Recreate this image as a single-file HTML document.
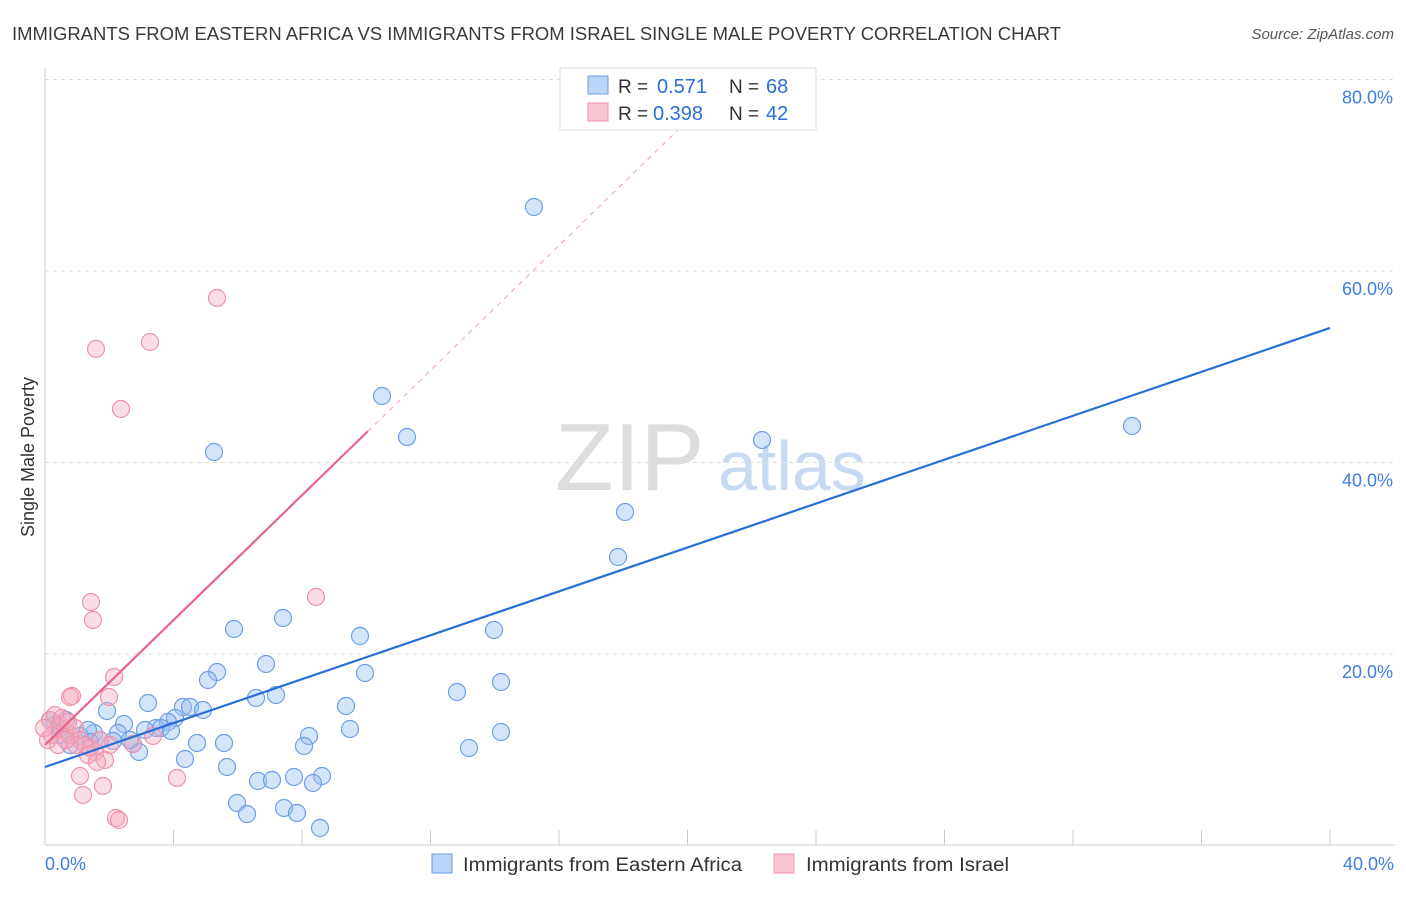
<!DOCTYPE html>
<html><head><meta charset="utf-8"><style>
body{margin:0;background:#fff;font-family:"Liberation Sans",sans-serif;}
svg text{font-family:"Liberation Sans",sans-serif;}
</style></head><body>
<svg id="chart" width="1406" height="892">
<text x="12" y="40" font-size="18" fill="#3a3a3a" textLength="1049" lengthAdjust="spacingAndGlyphs">IMMIGRANTS FROM EASTERN AFRICA VS IMMIGRANTS FROM ISRAEL SINGLE MALE POVERTY CORRELATION CHART</text>
<text x="1394" y="39" font-size="15" fill="#555" font-style="italic" text-anchor="end">Source: ZipAtlas.com</text>
<text x="0" y="0" font-size="18" fill="#333" transform="translate(34,457) rotate(-90)" text-anchor="middle">Single Male Poverty</text>
<text x="555" y="490" font-size="96" fill="#ddd" font-family="Liberation Serif">ZIP</text>
<text x="718" y="490" font-size="70" fill="#c8daf2">atlas</text>
<g id="grid"></g><g id="pts"></g><g id="lines"></g>
<g>
<rect x="560" y="68" width="256" height="62" fill="#fff" stroke="#ddd"/>
<rect x="588" y="76" width="20" height="18" fill="#bcd4f5" stroke="#6d9ee6"/>
<rect x="588" y="103" width="20" height="18" fill="#f9c5d3" stroke="#ee92ad"/>
<text x="618" y="93" font-size="19" fill="#333">R =</text>
<text x="657" y="93" font-size="20" fill="#2a6fd6">0.571</text>
<text x="729" y="93" font-size="19" fill="#333">N =</text>
<text x="766" y="93" font-size="20" fill="#2a6fd6">68</text>
<text x="618" y="120" font-size="19" fill="#333">R =</text>
<text x="653" y="120" font-size="20" fill="#2a6fd6">0.398</text>
<text x="729" y="120" font-size="19" fill="#333">N =</text>
<text x="766" y="120" font-size="20" fill="#2a6fd6">42</text>
</g>
<g>
<rect x="432" y="854" width="20" height="19" fill="#bcd4f5" stroke="#6d9ee6"/>
<text x="463" y="871" font-size="19" fill="#333" textLength="279" lengthAdjust="spacingAndGlyphs">Immigrants from Eastern Africa</text>
<rect x="774" y="854" width="20" height="19" fill="#f9c5d3" stroke="#ee92ad"/>
<text x="806" y="871" font-size="19" fill="#333" textLength="203" lengthAdjust="spacingAndGlyphs">Immigrants from Israel</text>
</g>
<text x="45" y="870" font-size="18" fill="#3d7fe0">0.0%</text>
<text x="1394" y="870" font-size="18" fill="#3d7fe0" text-anchor="end">40.0%</text>
</svg>
<script>
const blue=[[534,207],[382,396],[407,437],[214,452],[762,440],[1132,426],[625,512],[618,557],[234,629],[283,618],[360,636],[494,630],[266,664],[217,672],[208,680],[365,673],[457,692],[501,682],[256,698],[276,695],[148,703],[183,707],[190,707],[203,710],[107,711],[346,706],[175,718],[168,722],[124,724],[156,728],[161,728],[171,731],[350,729],[501,732],[309,736],[118,733],[94,733],[80,736],[66,720],[55,725],[60,735],[113,741],[133,744],[139,752],[197,743],[224,743],[304,746],[469,748],[185,759],[227,767],[258,781],[272,780],[294,777],[322,776],[313,783],[237,803],[247,814],[284,808],[297,813],[320,828],[100,740],[88,730],[50,720],[70,745],[130,740],[145,730],[60,728],[90,742]].map(p=>[(p[0]-45)/32.125,(845.5-p[1])/9.575]);
const pink=[[217,298],[96,349],[150,342],[121,409],[91,602],[93,620],[316,597],[114,677],[72,696],[70,697],[109,697],[50,720],[55,715],[60,725],[65,730],[70,735],[75,728],[80,740],[85,745],[90,748],[95,752],[100,740],[105,760],[88,755],[97,762],[80,776],[83,795],[103,786],[116,818],[119,820],[177,778],[153,736],[133,744],[48,740],[52,735],[58,745],[62,718],[68,722],[44,728],[76,745],[110,745],[66,740]].map(p=>[(p[0]-45)/32.125,(845.5-p[1])/9.575]);
const yTicks=[20,40,60,80];
const yTickLabels=["20.0%","40.0%","60.0%","80.0%"];
const blueTrend=[8.2,54.05];
const pinkTrend=[10.5,3.26];
const NS='http://www.w3.org/2000/svg';
const X=v=>45+v*32.125, Y=v=>845.5-v*9.575;
function mk(t,a,parent){const e=document.createElementNS(NS,t);for(const k in a)e.setAttribute(k,a[k]);document.getElementById(parent).appendChild(e);return e;}
yTicks.forEach((t,i)=>{
 let l=mk('line',{x1:45,x2:1395,y1:Y(t),y2:Y(t),stroke:'#ddd','stroke-dasharray':'4,4'},'grid');
 
 
 let tx=mk('text',{x:1393,y:Y(t)+24,'font-size':18,fill:'#3d7fe0','text-anchor':'end'},'grid');tx.textContent=yTickLabels[i];
 
 
});
let ax=mk('line',{x1:45,x2:45,y1:68,y2:845,stroke:'#ccc'},'grid');


let bx=mk('line',{x1:45,x2:1395,y1:845,y2:845,stroke:'#ccc'},'grid');


for(let i=1;i<=10;i++){let t=mk('line',{x1:X(i*4),x2:X(i*4),y1:830,y2:845,stroke:'#ccc'},'grid');
 
 }
blue.forEach(p=>{let c=mk('circle',{cx:X(p[0]),cy:Y(p[1]),r:8.5,fill:'rgba(150,190,240,0.4)',stroke:'#6d9ee6','stroke-width':1.2},'pts');
 
 });
pink.forEach(p=>{let c=mk('circle',{cx:X(p[0]),cy:Y(p[1]),r:8.5,fill:'rgba(245,170,190,0.4)',stroke:'#ee92ad','stroke-width':1.2},'pts');
 
 });
let bl=mk('line',{x1:X(0),y1:Y(blueTrend[0]),x2:X(40),y2:Y(blueTrend[1]),stroke:'#2a6fd6','stroke-width':2.2},'lines');


let pl=mk('line',{x1:X(0),y1:Y(pinkTrend[0]),x2:X(10.05),y2:Y(pinkTrend[0]+pinkTrend[1]*10.05),stroke:'#e9648c','stroke-width':2.2},'lines');


const xe=(75-pinkTrend[0])/pinkTrend[1];
let pd=mk('line',{x1:X(10.05),y1:Y(pinkTrend[0]+pinkTrend[1]*10.05),x2:X(xe),y2:Y(75),stroke:'#f0a0b8','stroke-width':1,'stroke-dasharray':'5,5'},'lines');


</script>
</body></html>
